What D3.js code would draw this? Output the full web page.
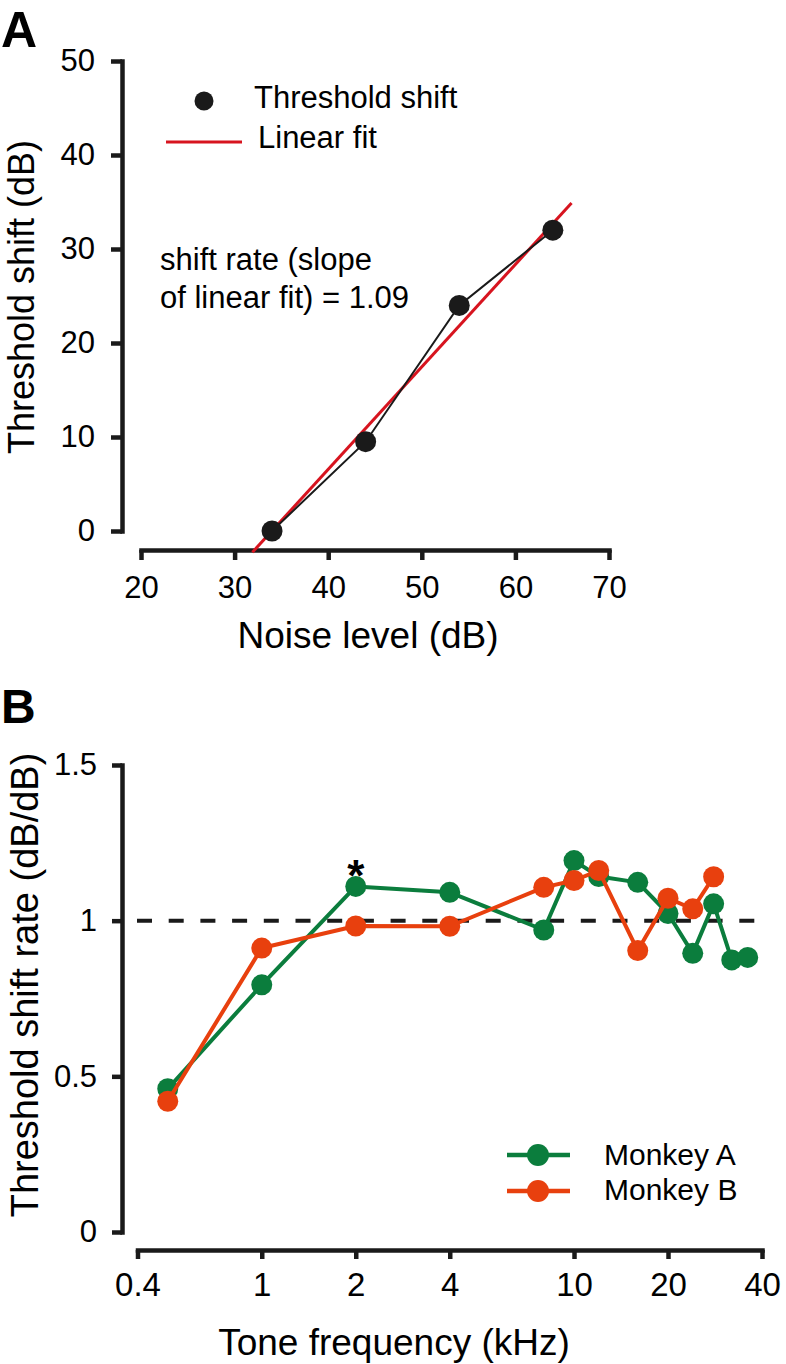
<!DOCTYPE html>
<html>
<head>
<meta charset="utf-8">
<script src="https://cdn.jsdelivr.net/npm/d3@7"></script>
<style>
  html, body { margin: 0; padding: 0; background: #fff; }
  svg { display: block; font-family: "Liberation Sans", Arial, Helvetica, sans-serif; }
</style>
</head>
<body>
<svg id="chart" width="786" height="1364"></svg>
<script>
// ---------- Panel A data ----------
const noiseLevels = [34, 44, 54, 64];
const thresholdShifts = [0, 9.5, 24, 32];
const fitSlope = 1.09;
const fitIntercept = -37.04;
const fitRange = [31.9, 66];
const aXTicks = [20, 30, 40, 50, 60, 70];
const aYTicks = [0, 10, 20, 30, 40, 50];

// ---------- Panel B data ----------
const freqA = [0.5, 1, 2, 4, 8, 10, 12, 16, 20, 24, 28, 32, 36];
const rateA = [0.46, 0.794, 1.11, 1.091, 0.97, 1.193, 1.142, 1.123, 1.023, 0.895, 1.054, 0.874, 0.882];
const freqB = [0.5, 1, 2, 4, 8, 10, 12, 16, 20, 24, 28];
const rateB = [0.42, 0.912, 0.983, 0.982, 1.107, 1.129, 1.161, 0.904, 1.072, 1.038, 1.141];
const bXTicks = [0.4, 1, 2, 4, 10, 20, 40];
const bYTicks = [0, 0.5, 1, 1.5];
const bYTickLabels = ["0", "0.5", "1", "1.5"];
const seriesNames = ["Monkey A", "Monkey B"];
const colorA = "#0b7d3d";
const colorB = "#e8400e";

const svg = d3.select("#chart");
const FONT = '"Liberation Sans", Arial, Helvetica, sans-serif';

function styleAxis(g, fs) {
  g.select(".domain").attr("stroke", "#1a1a1a").attr("stroke-width", 4.5).attr("stroke-linecap", "square");
  g.selectAll(".tick line").attr("stroke", "#1a1a1a").attr("stroke-width", 4.5);
  g.selectAll(".tick text").attr("fill", "#000").style("font-size", fs + "px").style("font-family", FONT);
}

// ================= Panel A =================
const xA = d3.scaleLinear().domain([20, 70]).range([141, 609]);
const yA = d3.scaleLinear().domain([0, 50]).range([531, 61]);

svg.append("text").attr("x", 1).attr("y", 47).text("A")
  .style("font-size", "50px").style("font-weight", "bold").attr("fill", "#000");

const gyA = svg.append("g").attr("transform", "translate(122,0)")
  .call(d3.axisLeft(yA).tickValues(aYTicks).tickSize(11).tickSizeOuter(0).tickPadding(16));
styleAxis(gyA, 31);
const gxA = svg.append("g").attr("transform", "translate(0,550)")
  .call(d3.axisBottom(xA).tickValues(aXTicks).tickSize(10).tickSizeOuter(0).tickPadding(16));
styleAxis(gxA, 31);

svg.append("text").attr("x", 368).attr("y", 648).attr("text-anchor", "middle")
  .style("font-size", "37px").text("Noise level (dB)");
svg.append("text").attr("transform", "translate(34,297) rotate(-90)").attr("text-anchor", "middle")
  .style("font-size", "36px").text("Threshold shift (dB)");

// fit line
svg.append("line")
  .attr("x1", xA(fitRange[0])).attr("y1", yA(fitSlope * fitRange[0] + fitIntercept))
  .attr("x2", xA(fitRange[1])).attr("y2", yA(fitSlope * fitRange[1] + fitIntercept))
  .attr("stroke", "#d7141f").attr("stroke-width", 3);

const ptsA = noiseLevels.map((x, i) => [x, thresholdShifts[i]]);
svg.append("path").datum(ptsA)
  .attr("d", d3.line().x(d => xA(d[0])).y(d => yA(d[1])))
  .attr("fill", "none").attr("stroke", "#1a1a1a").attr("stroke-width", 2);
svg.selectAll(".dotA").data(ptsA).enter().append("circle")
  .attr("cx", d => xA(d[0])).attr("cy", d => yA(d[1])).attr("r", 10.5).attr("fill", "#1a1a1a");

// legend A
svg.append("circle").attr("cx", 204).attr("cy", 101).attr("r", 9.5).attr("fill", "#1a1a1a");
svg.append("text").attr("x", 254).attr("y", 108).style("font-size", "31px").text("Threshold shift");
svg.append("line").attr("x1", 166).attr("x2", 242).attr("y1", 142).attr("y2", 142)
  .attr("stroke", "#d7141f").attr("stroke-width", 3);
svg.append("text").attr("x", 258).attr("y", 148).style("font-size", "31px").text("Linear fit");

svg.append("text").attr("x", 160).attr("y", 270).style("font-size", "31px").text("shift rate (slope");
svg.append("text").attr("x", 160).attr("y", 308).style("font-size", "31px").text("of linear fit) = 1.09");

// ================= Panel B =================
const xB = d3.scaleLog().domain([0.4, 40]).range([137.5, 762]);
const yB = d3.scaleLinear().domain([0, 1.5]).range([1232, 765]);

svg.append("text").attr("x", 1).attr("y", 723).text("B")
  .style("font-size", "48px").style("font-weight", "bold").attr("fill", "#000");

const gyB = svg.append("g").attr("transform", "translate(122,0)")
  .call(d3.axisLeft(yB).tickValues(bYTicks).tickFormat((d, i) => bYTickLabels[i])
    .tickSize(10).tickSizeOuter(0).tickPadding(15));
styleAxis(gyB, 31);
const gxB = svg.append("g").attr("transform", "translate(0,1250)")
  .call(d3.axisBottom(xB).tickValues(bXTicks).tickFormat(d => String(d))
    .tickSize(9).tickSizeOuter(0).tickPadding(14));
styleAxis(gxB, 33);

svg.append("text").attr("x", 394).attr("y", 1355).attr("text-anchor", "middle")
  .style("font-size", "37px").text("Tone frequency (kHz)");
svg.append("text").attr("transform", "translate(38,985) rotate(-90)").attr("text-anchor", "middle")
  .style("font-size", "38px").text("Threshold shift rate (dB/dB)");

// reference dashed line at 1
svg.append("line").attr("x1", 137).attr("x2", 760).attr("y1", yB(1)).attr("y2", yB(1))
  .attr("stroke", "#1a1a1a").attr("stroke-width", 4).attr("stroke-dasharray", "15,16.7");

function drawSeries(freqs, vals, color) {
  const pts = freqs.map((f, i) => [f, vals[i]]);
  svg.append("path").datum(pts)
    .attr("d", d3.line().x(d => xB(d[0])).y(d => yB(d[1])))
    .attr("fill", "none").attr("stroke", color).attr("stroke-width", 4).attr("stroke-linejoin", "round");
  svg.append("g").selectAll("circle").data(pts).enter().append("circle")
    .attr("cx", d => xB(d[0])).attr("cy", d => yB(d[1])).attr("r", 10.5).attr("fill", color);
}
drawSeries(freqA, rateA, colorA);
drawSeries(freqB, rateB, colorB);

// asterisk
svg.append("text").attr("x", xB(2)).attr("y", 891).attr("text-anchor", "middle")
  .style("font-size", "44px").style("font-weight", "bold").text("*");

// legend B
[[colorA, 1155, 1165], [colorB, 1191, 1200]].forEach((d, i) => {
  svg.append("line").attr("x1", 507).attr("x2", 570).attr("y1", d[1]).attr("y2", d[1])
    .attr("stroke", d[0]).attr("stroke-width", 4.5);
  svg.append("circle").attr("cx", 538).attr("cy", d[1]).attr("r", 11).attr("fill", d[0]);
  svg.append("text").attr("x", 604).attr("y", d[2]).style("font-size", "30px").text(seriesNames[i]);
});
</script>
</body>
</html>
